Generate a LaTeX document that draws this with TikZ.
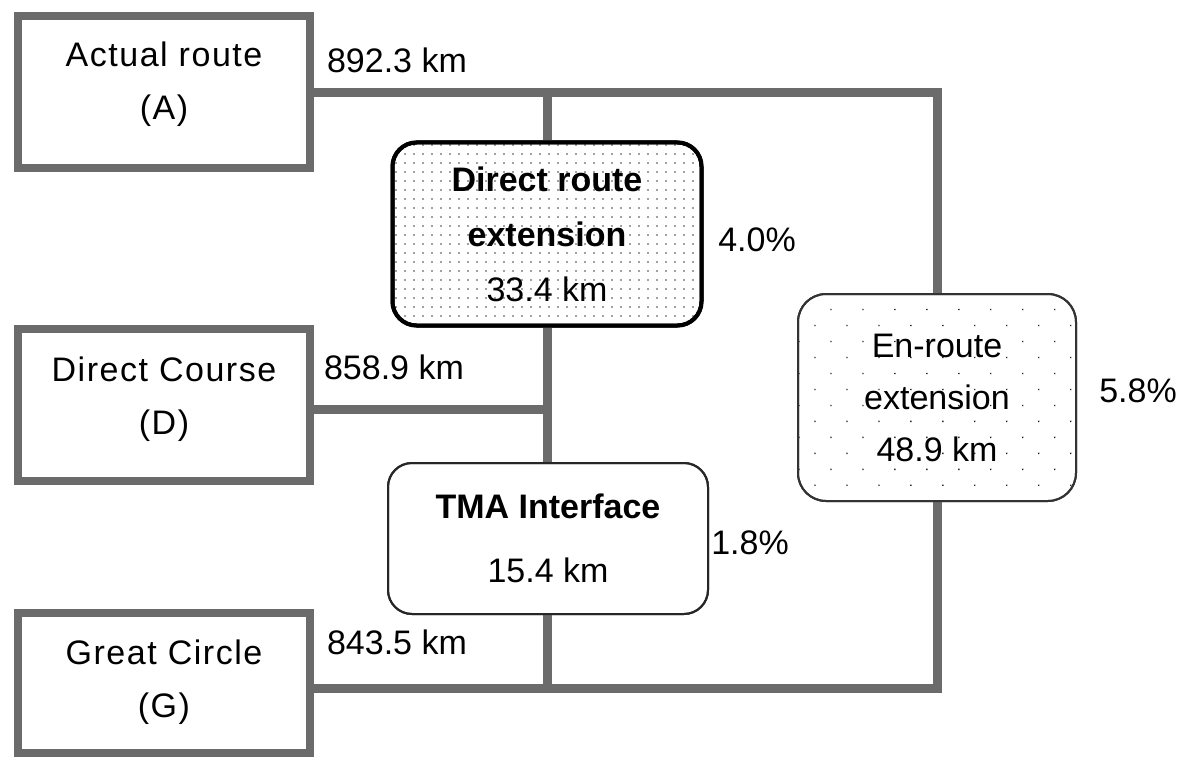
\documentclass[tikz,border=0pt]{standalone}
\usepackage{fontspec}
\setmainfont{Liberation Sans}
\usetikzlibrary{patterns.meta}
\definecolor{lnc}{gray}{0.42}
\begin{document}
\begin{tikzpicture}[x=1pt,y=-1pt,
  every node/.style={font=\fontsize{34}{54}\selectfont, inner sep=0pt, align=center},
  sqbox/.style={draw=lnc, line width=8pt, minimum width=292pt, minimum height=152pt},
  sidetext/.style={font=\fontsize{34}{53}\selectfont\addfontfeature{LetterSpace=4.5}},
  conn/.style={draw=lnc, line width=9pt},
  dre/.style={draw=black, line width=4pt, rounded corners=24pt, minimum width=309pt, minimum height=183pt,
     pattern={Dots[distance=9pt,radius=0.85pt]}, pattern color=black!75},
  enr/.style={draw=black!80, line width=2pt, rounded corners=28pt, minimum width=278pt, minimum height=207pt,
     pattern={Dots[distance=22.6pt,angle=45,radius=0.95pt]}, pattern color=black!85},
  tma/.style={draw=black!85, line width=2pt, rounded corners=24pt, minimum width=320pt, minimum height=151pt, fill=white},
  lbl/.style={anchor=center}
]
\useasboundingbox (0,0) rectangle (1189,757);
% side boxes
\node[sqbox] (A) at (164,92) {};
\node[sqbox] (D) at (164,405) {};
\node[sqbox, minimum height=140pt] (G) at (164,683) {};
\node[sidetext] (At) at (164,84) {Actual route\\(A)};
\node[sidetext] (Dt) at (164,399) {Direct Course\\(D)};
\node[sidetext] (Gt) at (164,682) {Great Circle\\(G)};
% middle boxes
\node[dre, font=\fontsize{34}{55}\selectfont] (DRE) at (547,234) {\textbf{Direct route}\\\textbf{extension}\\33.4 km};
\node[enr, font=\fontsize{34}{52}\selectfont] (EN) at (937,397.5) {En-route\\extension\\48.9 km};
\node[tma] (TMA) at (548,538.5) {\textbf{TMA Interface}\\[10pt]15.4 km};
% junction coordinates
\coordinate (jTop) at (547,93);
\coordinate (jTopR) at (937,93);
\coordinate (jD) at (547,409);
\coordinate (jBot) at (547,688);
\coordinate (jBotR) at (937,688);
% connectors
\draw[conn] (A.east |- jTop) -- (jTopR) -- (EN.north);
\draw[conn] (jTop) -- (DRE.north);
\draw[conn] (DRE.south) -- (DRE.south |- TMA.north);
\draw[conn] (D.east |- jD) -- (jD);
\draw[conn] (G.east |- jBot) -- (jBotR) -- (EN.south);
\draw[conn] (jBot |- TMA.south) -- (jBot);
% redraw box outlines on top of line ends
\node[sqbox] at (A) {};
\node[sqbox] at (D) {};
\node[sqbox, minimum height=140pt] at (G) {};
\node[dre, pattern=none] at (DRE) {};
\node[enr, pattern=none] at (EN) {};
\node[tma, fill=none] at (TMA) {};
% labels
\node[lbl] (l1) at (397,60) {892.3 km};
\node[lbl] (l2) at (394,367) {858.9 km};
\node[lbl] (l3) at (397,642) {843.5 km};
\node[lbl] (p1) at (757,240) {4.0\%};
\node[lbl] (p2) at (1138,391) {5.8\%};
\node[lbl] (p3) at (750,543) {1.8\%};
\end{tikzpicture}
\end{document}
